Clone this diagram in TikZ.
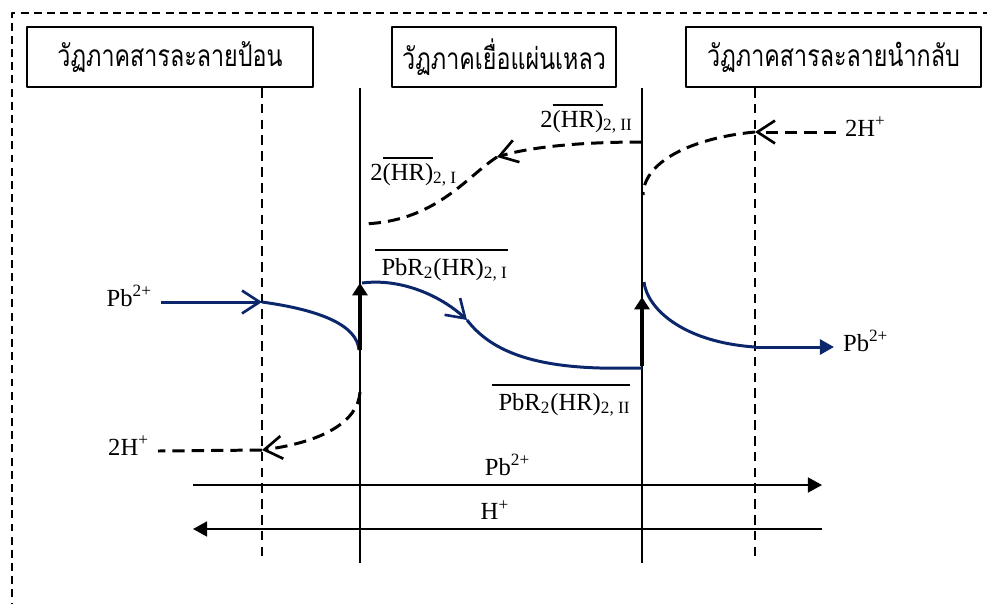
\documentclass[tikz,border=0pt]{standalone}
\usepackage{fontspec}
\setmainfont{Liberation Serif}
\newfontfamily\thaifont[Script=Thai,FakeStretch=0.78]{Loma}
\usetikzlibrary{arrows.meta}
\definecolor{leadblue}{RGB}{12,38,108}
% line above a label, with a gap
\newcommand\ovl[2][2.5pt]{\vbox{\hrule height 0.9pt\kern#1\hbox{#2}}}

\begin{document}
\begin{tikzpicture}[x=0.02cm, y=-0.02cm, font=\fontsize{14}{16}\selectfont, line join=round,
    phase/.style={draw, line width=1pt, minimum height=1.2cm, font=\thaifont\fontsize{17}{20}\selectfont},
    ion/.style={inner sep=5pt},
    bulk/.style={line width=1.1pt, dash pattern=on 5.5pt off 3.5pt},
    wall/.style={line width=1.1pt},
    pump/.style={line width=2.3pt, -{Triangle[length=7pt,width=8.5pt]}},
    lead/.style={leadblue, line width=1.7pt},
    proton/.style={line width=1.7pt, dash pattern=on 7pt off 4pt},
    barb/.style={-{Straight Barb[length=10pt,width=13pt,line width=1.5pt]}},
    net/.style={line width=1.1pt, -{Triangle[length=8pt,width=8.5pt]}}]
  \useasboundingbox (0,0) rectangle (987,603);
  \clip (0,0) rectangle (987,603);
  \draw[line width=0.8pt, dash pattern=on 4.5pt off 3pt] (12,650) |- (1030,13);

  % phases
  \node[phase, minimum width=5.72cm] (feed) at (170,57) {วัฏภาคสารละลายป้อน};
  \node[phase, minimum width=4.48cm] (memb) at (504,57) {วัฏภาคเยื่อแผ่นเหลว};
  \node[phase, minimum width=5.9cm] (strip) at (833.5,57) {วัฏภาคสารละลายนำกลับ};

  \coordinate (F) at (262,88);
  \coordinate (M1) at (360,88);
  \coordinate (M2) at (642,88);
  \coordinate (S) at (755,88);
  \draw[bulk] (F) -- (262,558);
  \draw[bulk] (S) -- (755,558);
  \draw[wall] (M1) -- (360,563);
  \draw[wall] (M2) -- (642,563);

  % lead path
  \node[ion, anchor=mid east] (pbin) at (161,302) {Pb\textsuperscript{2+}};
  \coordinate (a1) at (262,302);
  \coordinate (a2) at (467,320);
  \coordinate (a3) at (755,347);
  \draw[lead, barb] (pbin.mid east) -- (a1);
  \draw[lead] (a1) .. controls (320,310) and (357,325) .. (359,350);
  \draw[pump] (360,350) -- (360,283);
  \draw[lead, barb] (362,283) .. controls (400,278) and (440,295) .. (a2);
  \draw[lead] (a2) .. controls (490,350) and (530,366) .. (600,368) -- (642,368);
  \draw[pump] (642,366) -- (642,297);
  \draw[lead] (644,282) .. controls (647,308) and (682,342) .. (a3);
  \node[ion, anchor=mid west] (pbout) at (834,347) {Pb\textsuperscript{2+}};
  \draw[lead, -{Triangle[length=8pt,width=8.5pt]}] (a3) -- (pbout.mid west);

  % proton path
  \node[ion, anchor=mid west] (hin) at (836,132) {2H\textsuperscript{+}};
  \coordinate (b1) at (755,132);
  \draw[proton, barb] (hin.mid west) -- (b1);
  \draw[proton] (b1) .. controls (700,137) and (644,158) .. (643,195);
  \coordinate (c0) at (642,142);
  \coordinate (c1) at (497,157);
  \draw[proton, barb] (c0) .. controls (580,142) and (530,147) .. (c1);
  \draw[proton] (c1) .. controls (465,178) and (435,222) .. (362,224);
  \coordinate (d0) at (360,392);
  \coordinate (d1) at (262,450);
  \draw[proton, barb] (d0) .. controls (358,422) and (322,442) .. (d1);
  \node[ion, anchor=mid east] (hout) at (158,451) {2H\textsuperscript{+}};
  \draw[proton] (d1) -- (hout.mid east);

  % carrier labels
  \node[anchor=base west, inner sep=0pt] (hr2) at (540,127) {2\ovl{(HR)}\textsubscript{2, II}};
  \node[anchor=base west, inner sep=0pt] (hr1) at (370,180) {2\ovl{(HR)}\textsubscript{2, I}};
  \node[anchor=base west, inner sep=0pt] (cx1) at (375,275) {\ovl[4pt]{\ PbR\textsubscript{2}(HR)\textsubscript{2, I}}};
  \node[anchor=base west, inner sep=0pt] (cx2) at (492,410) {\ovl[4pt]{\ PbR\textsubscript{2}(HR)\textsubscript{2, II}}};

  % overall transport
  \coordinate (p0) at (193,485);
  \coordinate (p1) at (822,485);
  \coordinate (h0) at (822,529);
  \coordinate (h1) at (193,529);
  \draw[net] (p0) -- (p1) node[ion, midway, above] (pbnet) {Pb\textsuperscript{2+}};
  \draw[net] (h0) -- (h1) node[ion, pos=0.52, above] (hnet) {H\textsuperscript{+}};
\end{tikzpicture}
\end{document}
